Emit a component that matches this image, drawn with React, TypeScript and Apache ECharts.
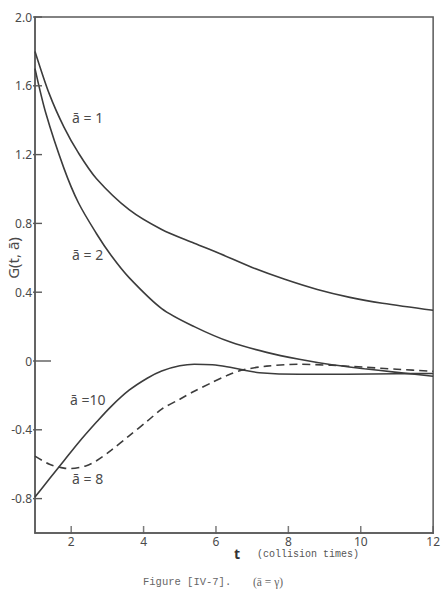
import React, { useEffect, useRef } from "react";
import * as echarts from "echarts";

// t values and G(t, a) values, per curve
const tA1 = [1, 1.4, 1.8, 2.2, 2.7, 3.6, 4.5, 5.4, 6.1, 7.0, 7.9, 8.8, 9.7, 10.6, 12];
const gA1 = [1.8, 1.55, 1.36, 1.21, 1.06, 0.88, 0.765, 0.685, 0.625, 0.544, 0.475, 0.416, 0.37, 0.336, 0.295];

const tA2 = [1, 1.3, 1.8, 2.2, 2.7, 3.1, 3.6, 4.5, 5.4, 6.4, 7.4, 8.3, 9.2, 10.1, 11, 12];
const gA2 = [1.7, 1.44, 1.12, 0.92, 0.74, 0.615, 0.485, 0.305, 0.2, 0.11, 0.05, 0.01, -0.022, -0.045, -0.066, -0.089];

const tA10 = [1, 1.4, 1.8, 2.2, 2.7, 3.1, 3.6, 4.1, 4.5, 5.0, 5.4, 5.9, 6.3, 6.7, 7.2, 8.3, 9.6, 11, 12];
const gA10 = [-0.79, -0.685, -0.58, -0.475, -0.355, -0.265, -0.17, -0.1, -0.058, -0.028, -0.019, -0.022, -0.033, -0.05, -0.068, -0.077, -0.077, -0.074, -0.073];

const tA8 = [1, 1.4, 1.8, 2.0, 2.4, 2.7, 3.1, 3.6, 4.1, 4.5, 5.0, 5.4, 5.9, 6.3, 6.7, 7.4, 8.3, 9.2, 10.1, 11, 12];
const gA8 = [-0.553, -0.6, -0.623, -0.625, -0.61, -0.58, -0.52, -0.435, -0.35, -0.28, -0.222, -0.176, -0.124, -0.085, -0.054, -0.03, -0.019, -0.025, -0.036, -0.048, -0.06];

const xTicks = [2, 4, 6, 8, 10, 12];
const yTicks = [-0.8, -0.4, 0, 0.4, 0.8, 1.2, 1.6, 2.0];
const Y_MIN = -1;

const curveLabels = ["ā = 1", "ā = 2", "ā =10", "ā = 8"];

const pairs = (xs: number[], ys: number[]) => xs.map((x, i) => [x, ys[i]]);

const LINE = "#3c3c3c";
const AXIS = "#5a5a5a";
const TEXT = "#4a4a4a";

export default function App() {
  const ref = useRef<HTMLDivElement>(null);
  useEffect(() => {
    if (!ref.current) return;
    const chart = echarts.init(ref.current, null, { renderer: "svg" });
    const solid = { color: LINE, width: 1.6 };
    const mk = (name: string, xs: number[], ys: number[], dashed = false) => ({
      name,
      type: "line",
      data: pairs(xs, ys),
      smooth: 0.3,
      showSymbol: false,
      symbol: "none",
      lineStyle: dashed ? { ...solid, type: [8, 5] } : solid,
      silent: true,
    });
    const labelStyle = { fontFamily: "Noto Sans", fontSize: 14, fill: TEXT };
    chart.setOption({
      animation: false,
      backgroundColor: "#ffffff",
      grid: {
        left: 35,
        top: 17,
        width: 401,
        height: 516,
        show: true,
        borderColor: AXIS,
        borderWidth: 1.5,
        backgroundColor: "transparent",
      },
      xAxis: {
        type: "value",
        min: 1,
        max: 12,
        axisLine: { show: true, onZero: false, lineStyle: { color: AXIS, width: 1.5 } },
        splitLine: { show: false },
        axisTick: { show: false },
        axisLabel: {
          customValues: xTicks,
          margin: 2,
          color: TEXT,
          fontFamily: "Noto Sans",
          fontSize: 12,
          showMinLabel: true,
          showMaxLabel: true,
        },
      },
      yAxis: {
        type: "value",
        min: Y_MIN,
        max: 2,
        axisLine: { show: true, onZero: false, lineStyle: { color: AXIS, width: 1.5 } },
        splitLine: { show: false },
        axisTick: { show: false },
        axisLabel: {
          customValues: yTicks,
          margin: 3,
          color: TEXT,
          fontFamily: "Noto Sans",
          fontSize: 12,
          formatter: (v: number) => (v === 0 ? "0" : v.toFixed(1)),
        },
      },
      series: [
        mk("ā = 1", tA1, gA1),
        mk("ā = 2", tA2, gA2),
        mk("ā = 10", tA10, gA10),
        mk("ā = 8", tA8, gA8, true),
        {
          name: "xticks",
          type: "scatter",
          data: xTicks.map((v) => [v, Y_MIN]),
          symbol: "rect",
          symbolSize: [1.5, 8],
          symbolOffset: [0, -3],
          itemStyle: { color: AXIS },
          clip: false,
          silent: true,
          z: 10,
        },
      ],
    });

    const tickFill = { fill: AXIS };
    const ticks: any[] = [];
    yTicks.forEach((v) => {
      const [px, py] = chart.convertToPixel({ gridIndex: 0 }, [1, v]) as number[];
      const len = v === 0 ? 16 : 7;
      ticks.push({ type: "rect", shape: { x: px - 2, y: py - 0.7, width: len + 2, height: 1.4 }, style: tickFill, z: 10 });
    });

    chart.setOption({
      graphic: [
        ...ticks,
        { type: "text", x: 72, y: 117, style: { ...labelStyle, text: curveLabels[0], verticalAlign: "middle" } },
        { type: "text", x: 72, y: 254, style: { ...labelStyle, text: curveLabels[1], verticalAlign: "middle" } },
        { type: "text", x: 70, y: 399, style: { ...labelStyle, text: curveLabels[2], verticalAlign: "middle" } },
        { type: "text", x: 72, y: 478, style: { ...labelStyle, text: curveLabels[3], verticalAlign: "middle" } },
        {
          type: "text",
          x: 13,
          y: 258,
          rotation: Math.PI / 2,
          style: { text: "G(t, ā)", fontFamily: "Noto Sans", fontSize: 15, fill: TEXT, align: "center", verticalAlign: "middle" },
        },
        {
          type: "text",
          x: 237,
          y: 553,
          style: { text: "t", fontFamily: "Noto Sans", fontWeight: "bold", fontSize: 14, fill: "#333", align: "center", verticalAlign: "middle" },
        },
        {
          type: "text",
          x: 257,
          y: 554,
          style: { text: "(collision times)", fontFamily: "Liberation Mono", fontSize: 10, fill: "#555", verticalAlign: "middle" },
        },
        {
          type: "text",
          x: 143,
          y: 582,
          style: { text: "Figure [IV-7].", fontFamily: "Liberation Mono", fontSize: 10.5, fill: "#666", verticalAlign: "middle" },
        },
        {
          type: "text",
          x: 253,
          y: 582,
          style: { text: "(ā = γ)", fontFamily: "Liberation Serif", fontSize: 11.5, fill: "#666", verticalAlign: "middle" },
        },
      ],
    });
    return () => chart.dispose();
  }, []);
  return (
    <div
      ref={ref}
      style={{ position: "fixed", left: 0, top: 0, width: 443, height: 593, background: "#fff" }}
    />
  );
}
